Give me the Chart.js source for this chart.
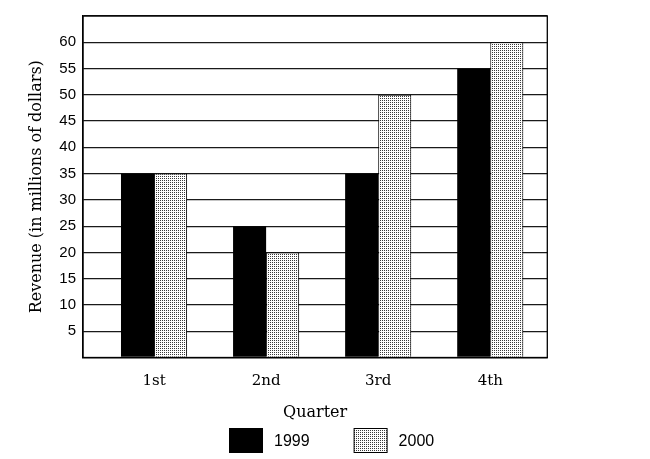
<!DOCTYPE html>
<html>
<head>
<meta charset="utf-8">
<script src="https://cdn.jsdelivr.net/npm/chart.js@4.4.1/dist/chart.umd.min.js"></script>
<style>
html,body{margin:0;padding:0;background:#fff;}
#wrap{width:650px;height:459px;}
</style>
</head>
<body>
<div id="wrap"><canvas id="c" width="650" height="459"></canvas></div>
<script>
const categories = ['1st', '2nd', '3rd', '4th'];
const seriesNames = ['1999', '2000'];
const revenue1999 = [35, 25, 35, 55];
const revenue2000 = [35, 20, 50, 60];
const yMin = 0, yMax = 65, yStep = 5;

function makePattern() {
  const p = document.createElement('canvas');
  p.width = 2; p.height = 2;
  const g = p.getContext('2d');
  g.fillStyle = '#ffffff'; g.fillRect(0, 0, 2, 2);
  g.fillStyle = '#3a3a3a';
  g.fillRect(0, 0, 1, 1);
  return document.getElementById('c').getContext('2d').createPattern(p, 'repeat');
}
const dotted = makePattern();

const framePlugin = {
  id: 'frame',
  afterDraw(chart) {
    const {ctx, chartArea: a} = chart;
    ctx.save();
    ctx.strokeStyle = '#000';
    ctx.lineWidth = 1.3;
    ctx.strokeRect(a.left, a.top, a.right - a.left, a.bottom - a.top);
    ctx.restore();
  }
};

const legendPlugin = {
  id: 'customLegend',
  afterDraw(chart) {
    const ctx = chart.ctx;
    ctx.save();
    ctx.font = '16px "Liberation Sans", Arial, sans-serif';
    ctx.textBaseline = 'middle';
    ctx.textAlign = 'left';
    const boxW = 34, boxH = 25, gap = 11, spacing = 44;
    const top = 428;
    let x = 229;
    chart.data.datasets.forEach((ds) => {
      ctx.fillStyle = ds.backgroundColor;
      ctx.fillRect(x, top, boxW, boxH);
      ctx.strokeStyle = '#000';
      ctx.lineWidth = 1;
      ctx.strokeRect(x + 0.5, top + 0.5, boxW - 1, boxH - 1);
      ctx.fillStyle = '#000';
      const tx = x + boxW + gap;
      ctx.fillText(ds.label, tx, top + boxH / 2 + 1);
      x = tx + ctx.measureText(ds.label).width + spacing;
    });
    ctx.restore();
  }
};

new Chart(document.getElementById('c'), {
  type: 'bar',
  data: {
    datasets: [
      {
        label: seriesNames[0],
        data: revenue1999.map((v, i) => ({x: i, y: v})),
        backgroundColor: '#000000',
        borderWidth: 0
      },
      {
        label: seriesNames[1],
        data: revenue2000.map((v, i) => ({x: i, y: v})),
        backgroundColor: dotted,
        borderColor: '#000000',
        borderWidth: 1
      }
    ]
  },
  options: {
    responsive: false,
    animation: false,
    devicePixelRatio: 1,
    layout: {padding: {top: 14.7, right: 102.7, bottom: 37, left: 0}},
    plugins: {legend: {display: false}, tooltip: {enabled: false}},
    datasets: {bar: {categoryPercentage: 0.59, barPercentage: 1.0}},
    scales: {
      x: {
        type: 'linear',
        min: -0.634,
        max: 3.509,
        offset: false,
        afterBuildTicks(scale) {
          scale.ticks = categories.map((c, i) => ({value: i}));
        },
        afterFit(scale) { scale.height = 64.5; },
        ticks: {
          callback: (v) => categories[v],
          font: {family: '"DejaVu Serif", serif', size: 15},
          color: '#000',
          padding: 15,
          maxRotation: 0,
          autoSkip: false
        },
        grid: {display: false, drawTicks: false},
        border: {display: true, color: '#000', width: 1.3},
        title: {
          display: true,
          text: 'Quarter',
          font: {family: '"DejaVu Serif", serif', size: 16},
          color: '#000',
          padding: {top: 0, bottom: 0}
        }
      },
      y: {
        min: yMin,
        max: yMax,
        afterFit(scale) { scale.width = 83; },
        ticks: {
          stepSize: yStep,
          callback: (v) => (v === yMin || v === yMax) ? '' : String(v),
          font: {family: '"Liberation Sans", Arial, sans-serif', size: 15},
          color: '#000',
          padding: 7
        },
        grid: {color: '#1a1a1a', lineWidth: 1.3, drawTicks: false},
        border: {display: true, color: '#000', width: 1.3},
        title: {
          display: true,
          text: 'Revenue (in millions of dollars)',
          font: {family: '"DejaVu Serif", serif', size: 16},
          color: '#000',
          padding: {top: 27.4, bottom: 0}
        }
      }
    }
  },
  plugins: [framePlugin, legendPlugin]
});
</script>
</body>
</html>
